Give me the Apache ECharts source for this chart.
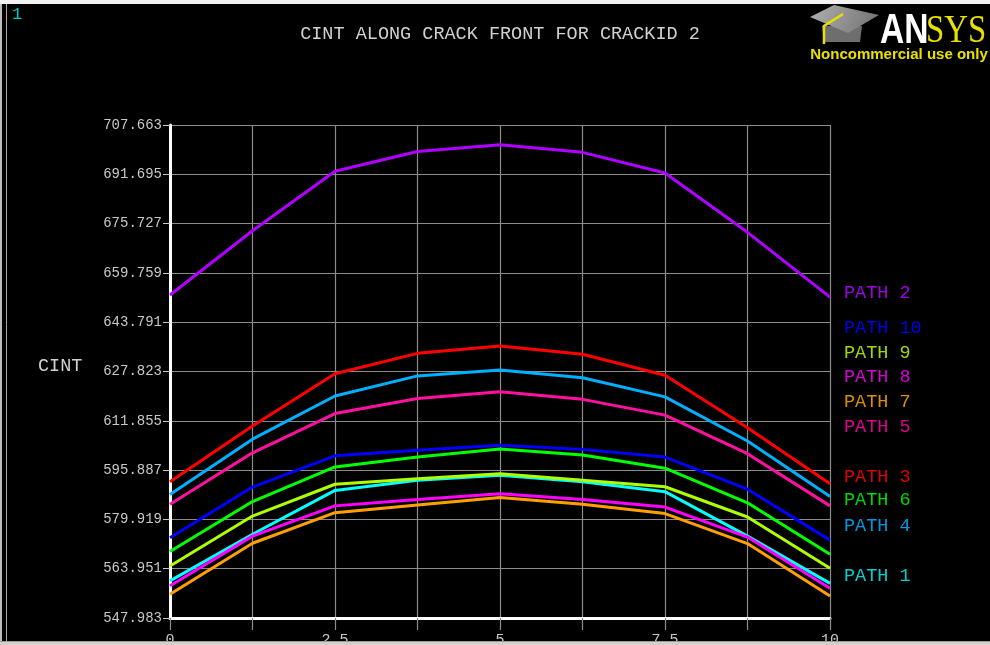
<!DOCTYPE html>
<html>
<head>
<meta charset="utf-8">
<script src="https://cdn.jsdelivr.net/npm/echarts@6/dist/echarts.min.js"></script>
<style>
html,body{margin:0;padding:0;background:#000;}
#chart{width:990px;height:645px;}
</style>
</head>
<body>
<div id="chart"></div>
<script>
// ---- data ----
var xs = [0, 1.25, 2.5, 3.75, 5, 6.25, 7.5, 8.75, 10];
var xTickLabels = [0, 2.5, 5, 7.5, 10];
var yMin = 547.983, yMax = 707.663, yStep = 15.968;

var path1  = [560.0, 575.1, 589.3, 592.6, 594.2, 592.1, 588.9, 574.5, 559.2];
var path2  = [652.6, 673.4, 692.7, 699.1, 701.3, 698.8, 692.1, 672.9, 651.9];
var path3  = [592.1, 610.2, 627.1, 633.7, 636.1, 633.4, 626.6, 609.6, 591.5];
var path4  = [588.0, 605.9, 619.9, 626.4, 628.3, 625.8, 619.6, 605.3, 587.3];
var path5  = [584.8, 601.5, 614.2, 619.1, 621.3, 618.8, 613.7, 601.2, 584.3];
var path6  = [569.5, 585.7, 596.9, 600.1, 602.7, 600.8, 596.5, 585.3, 568.6];
var path7  = [555.7, 572.2, 582.1, 584.6, 587.0, 584.8, 581.8, 572.1, 555.1];
var path8  = [558.4, 574.5, 584.3, 586.4, 588.2, 586.4, 583.9, 574.2, 557.6];
var path9  = [564.8, 581.0, 591.3, 593.1, 594.7, 592.6, 590.5, 580.7, 564.1];
var path10 = [574.0, 590.4, 600.5, 602.3, 603.9, 602.6, 600.1, 589.7, 573.2];

var seriesNames = ['PATH 1','PATH 2','PATH 3','PATH 4','PATH 5','PATH 6','PATH 7','PATH 8','PATH 9','PATH 10'];
var seriesData  = [path1, path2, path3, path4, path5, path6, path7, path8, path9, path10];
var lineColors  = ['#00ffff','#b000ff','#ff0000','#00b0ff','#ff10a0','#00ff00','#ffa000','#ff00ff','#b0ff00','#0000ff'];
var textColors  = ['#00d0d0','#a000e8','#e00000','#0098e0','#e00090','#00d800','#d89000','#d800d8','#a0d800','#0000e8'];
// legend label order (top to bottom) and vertical placement
var legendOrder = ['PATH 2','PATH 10','PATH 9','PATH 8','PATH 7','PATH 5','PATH 3','PATH 6','PATH 4','PATH 1'];
var legendY     = [293, 328, 353, 377, 402, 427, 477, 500, 526, 576];

var title = 'CINT ALONG CRACK FRONT FOR CRACKID 2';
var yName = 'CINT';

// ---- chart ----
var chart = echarts.init(document.getElementById('chart'), null, {renderer:'canvas'});
var mono = '"Liberation Mono", "DejaVu Sans Mono", monospace';

var series = seriesNames.map(function(n, i){
  return {
    name: n, type: 'line', showSymbol: false, symbol: 'none',
    data: xs.map(function(x, k){ return [x, seriesData[i][k]]; }),
    lineStyle: {color: lineColors[i], width: 3},
    itemStyle: {color: lineColors[i]},
    emphasis: {disabled: true},
    z: 3
  };
});

var graphics = [];
// legend labels
legendOrder.forEach(function(n, j){
  var idx = seriesNames.indexOf(n);
  graphics.push({type:'text', x: 844, y: legendY[j], z: 50,
    style:{text: n, fill: textColors[idx], font: '18.5px ' + mono, textAlign:'left', textVerticalAlign:'middle'}});
});
// title
graphics.push({type:'text', x: 500, y: 34, z: 50,
  style:{text: title, fill:'#d0d0d0', font:'18.5px ' + mono, textAlign:'center', textVerticalAlign:'middle'}});
// y name
graphics.push({type:'text', x: 38, y: 366, z: 50,
  style:{text: yName, fill:'#d0d0d0', font:'18.5px ' + mono, textAlign:'left', textVerticalAlign:'middle'}});
// window number
graphics.push({type:'text', x: 12, y: 14, z: 50,
  style:{text: '1', fill:'#00c8c8', font:'17px ' + mono, textAlign:'left', textVerticalAlign:'middle'}});
// top white strip
graphics.push({type:'rect', shape:{x:0, y:0, width:990, height:4}, style:{fill:'#f2f2f2'}, z: 60});
// left border line
graphics.push({type:'rect', shape:{x:0, y:4, width:2, height:641}, style:{fill:'#bdbdbd'}, z: 60});
graphics.push({type:'line', shape:{x1:6.5, y1:4, x2:6.5, y2:645}, style:{stroke:'#a8a8a8', lineWidth:1}, z: 60});
// yellow fragment at far left
graphics.push({type:'text', x: -10, y: 48, rotation: -Math.PI/2, z: 55,
  style:{text:'SYS', fill:'#e0d000', font:'bold 26px "Liberation Serif", serif', textAlign:'center', textVerticalAlign:'middle'}});
// bottom strip
graphics.push({type:'rect', shape:{x:0, y:641, width:990, height:4}, style:{fill:'#d4d0c8'}, z: 60});
graphics.push({type:'line', shape:{x1:0, y1:641.5, x2:990, y2:641.5}, style:{stroke:'#9a9a9a', lineWidth:1}, z: 61});

// ANSYS logo
graphics.push({type:'polygon', z: 50, shape:{points:[[822,26],[862,26],[860,42],[824,42]]},
  style:{fill:'#6e6e6e'}});
graphics.push({type:'polygon', z: 51, shape:{points:[[810,17],[834,5],[879,15],[848,33]]},
  style:{fill:new echarts.graphic.LinearGradient(0,0,1,1,[{offset:0,color:'#b0b0b0'},{offset:1,color:'#707070'}])}});
graphics.push({type:'polyline', z: 52, shape:{points:[[843,14],[824,26],[824,44]]},
  style:{stroke:'#e8e000', lineWidth:2.5, fill:null}});
graphics.push({type:'text', x: 880, y: 31, z: 50, scaleX: 0.8,
  style:{text:'AN', fill:'#ffffff', font:'bold 42px "Liberation Sans", Arial, sans-serif', textAlign:'left', textVerticalAlign:'middle'}});
graphics.push({type:'text', x: 926, y: 31, z: 50, scaleX: 0.82,
  style:{text:'SYS', fill:'#e8e000', font:'40px "Liberation Serif", serif', textAlign:'left', textVerticalAlign:'middle'}});
graphics.push({type:'text', x: 899, y: 55, z: 50,
  style:{text:'Noncommercial use only', fill:'#e8e000', font:'bold 15px "Liberation Sans", Arial, sans-serif', textAlign:'center', textVerticalAlign:'middle'}});

var option = {
  backgroundColor: '#000000',
  animation: false,
  grid: {left: 170, right: 160, top: 125, bottom: 27, containLabel: false, outerBoundsMode: 'none'},
  xAxis: {
    type: 'value', min: 0, max: 10, interval: 1.25,
    axisLine: {show: true, onZero: false, lineStyle: {color: '#ffffff', width: 3}},
    axisTick: {show: true, length: 12, lineStyle: {color: '#8c8c8c', width: 1.2}},
    splitLine: {show: true, lineStyle: {color: '#8c8c8c', width: 1.2}},
    axisLabel: {
      color: '#c8c8c8', fontFamily: mono, fontSize: 15, margin: 15,
      formatter: function(v){
        for (var i = 0; i < xTickLabels.length; i++) { if (Math.abs(v - xTickLabels[i]) < 1e-6) return String(xTickLabels[i]); }
        return '';
      }
    }
  },
  yAxis: {
    type: 'value', min: yMin, max: yMax, interval: yStep,
    axisLine: {show: true, onZero: false, lineStyle: {color: '#ffffff', width: 3}},
    axisTick: {show: true, length: 7, lineStyle: {color: '#c8c8c8', width: 1}},
    splitLine: {show: true, lineStyle: {color: '#8c8c8c', width: 1.2}},
    axisLabel: {
      color: '#c8c8c8', fontFamily: mono, fontSize: 14, margin: 8,
      formatter: function(v){ return v.toFixed(3); }
    }
  },
  series: series,
  graphic: {elements: graphics}
};
chart.setOption(option);
</script>
</body>
</html>
